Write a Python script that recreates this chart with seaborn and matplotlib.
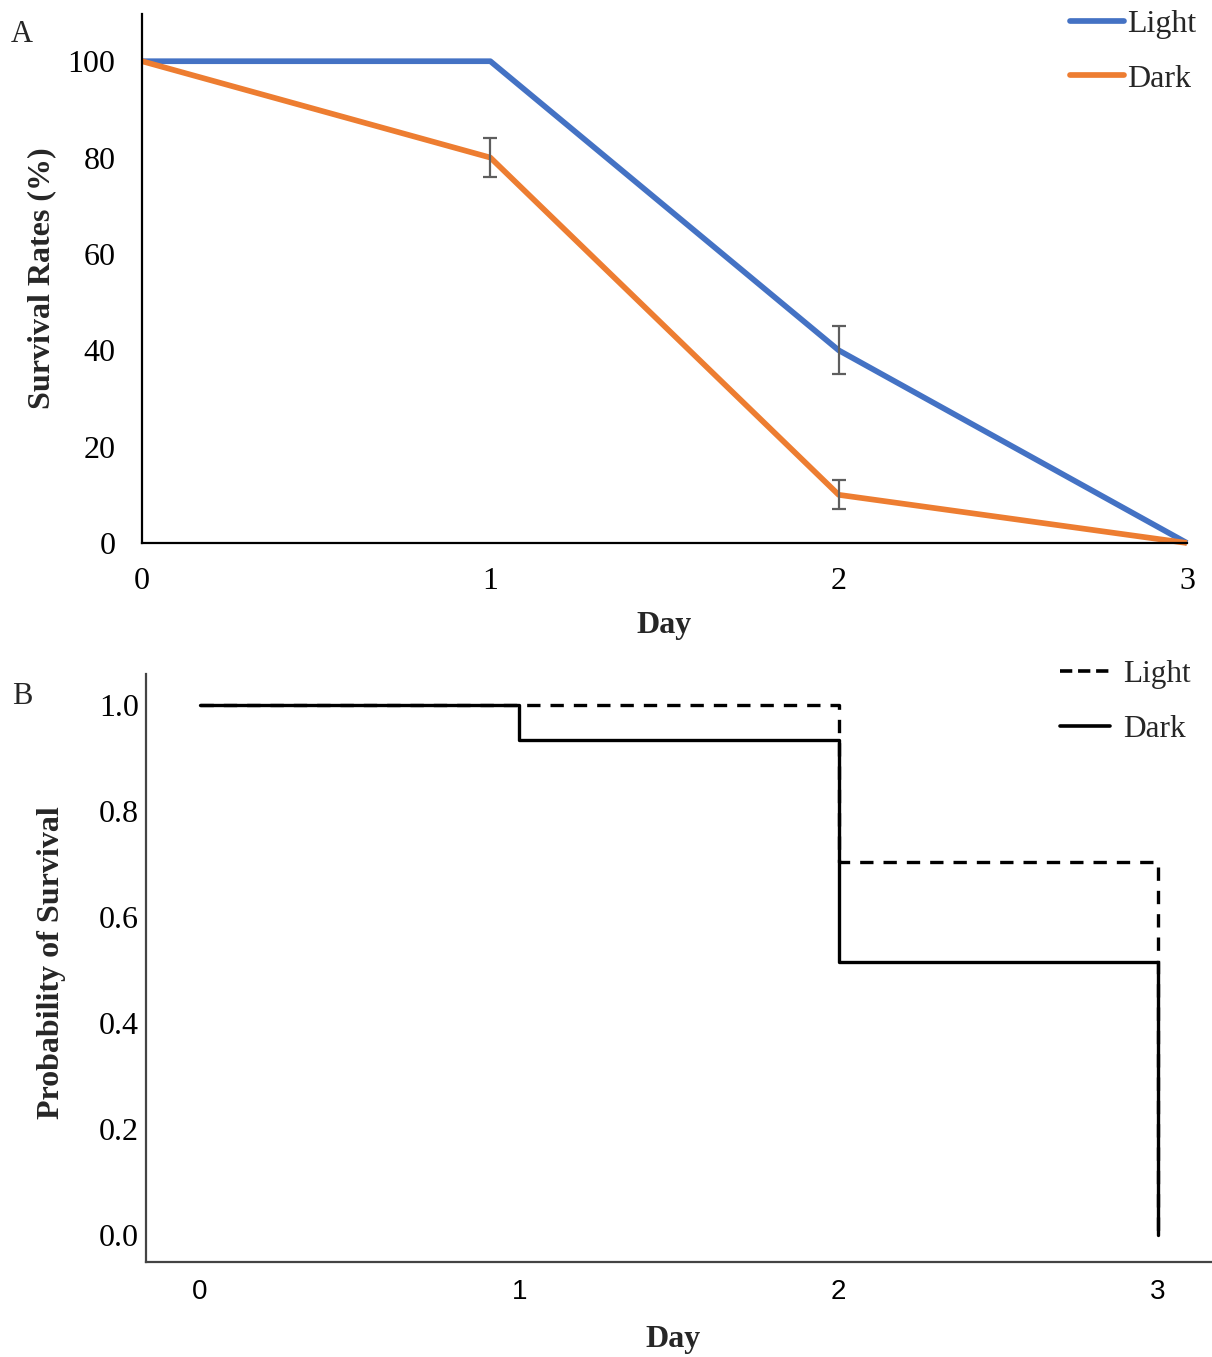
import numpy as np
import pandas as pd
import matplotlib
matplotlib.use("Agg")
import matplotlib.pyplot as plt
import seaborn as sns

# ---- data ----
days = [0, 1, 2, 3]
light_rate = [100, 100, 40, 0]
dark_rate = [100, 80, 10, 0]
light_err = [0, 0, 5, 0]
dark_err = [0, 4, 3, 0]

km_days = [0, 1, 2, 3]
km_light = [1.0, 1.0, 0.704, 0.0]
km_dark = [1.0, 0.934, 0.515, 0.0]

groups = ["Light", "Dark"]
colors = {"Light": "#4472C4", "Dark": "#ED7D31"}

sns.set_theme(style="white")
plt.rcParams["font.family"] = ["Liberation Serif", "DejaVu Serif"]

fig = plt.figure(figsize=(12.12, 13.57), dpi=100)
W, H = 1212, 1357


def px_axes(left, top, right, bottom):
    return fig.add_axes([left / W, 1 - bottom / H, (right - left) / W, (bottom - top) / H])


# ---- Panel A: survival rates ----
axA = px_axes(142, 14, 1187, 543)
dfA = pd.DataFrame({
    "Day": days * 2,
    "Rate": light_rate + dark_rate,
    "Err": light_err + dark_err,
    "Group": ["Light"] * 4 + ["Dark"] * 4,
})
sns.lineplot(data=dfA, x="Day", y="Rate", hue="Group", hue_order=groups,
             palette=colors, linewidth=4.1, estimator=None, ax=axA,
             legend=False, clip_on=False, solid_capstyle="butt")
for g in groups:
    sub = dfA[(dfA["Group"] == g) & (dfA["Err"] > 0)]
    axA.errorbar(sub["Day"], sub["Rate"], yerr=sub["Err"], fmt="none",
                 ecolor="#5e5e5e", elinewidth=1.6, capsize=5, capthick=1.6,
                 zorder=5)
axA.set_xlim(0, 3)
axA.set_ylim(0, 109.8)
axA.set_xticks(days)
axA.set_yticks([0, 20, 40, 60, 80, 100])
axA.tick_params(axis="both", length=0, labelsize=23, colors="black")
axA.tick_params(axis="y", pad=19)
axA.tick_params(axis="x", pad=17)
for s in ["top", "right"]:
    axA.spines[s].set_visible(False)
for s in ["left", "bottom"]:
    axA.spines[s].set_color("black")
    axA.spines[s].set_linewidth(1.6)
axA.set_xlabel("Day", fontsize=23, fontweight="bold", va="center")
axA.xaxis.set_label_coords(0.5, -(625 - 543) / 529)
axA.set_ylabel("Survival Rates (%)", fontsize=23, fontweight="bold", va="center")
axA.yaxis.set_label_coords((42 - 142) / 1045, 0.5)

handlesA = [plt.Line2D([], [], color=colors[g], lw=4.1, solid_capstyle="round") for g in groups]
fig.legend(handlesA, groups, loc="upper left", bbox_to_anchor=(1070 / W, 1 - 10 / H),
           frameon=False, fontsize=23, handlelength=1.7, handletextpad=0.08,
           labelspacing=0.78, borderpad=0, borderaxespad=0)
fig.text(22 / W, 1 - 35 / H, "A", fontsize=22, ha="center", va="center")

# ---- Panel B: Kaplan-Meier curve ----
axB = px_axes(146, 674, 1212, 1262)
dfB = pd.DataFrame({
    "Day": km_days * 2,
    "Survival": km_light + km_dark,
    "Group": ["Light"] * 4 + ["Dark"] * 4,
})
sns.lineplot(data=dfB, x="Day", y="Survival", hue="Group", style="Group",
             hue_order=groups, style_order=groups,
             palette={"Light": "black", "Dark": "black"},
             dashes={"Light": (4, 3), "Dark": ""},
             drawstyle="steps-post", linewidth=2.4, estimator=None,
             legend=False, ax=axB)
axB.set_xlim(-0.169, 3.169)
axB.set_ylim(-0.051, 1.058)
axB.set_xticks(km_days)
yt = [0.0, 0.2, 0.4, 0.6, 0.8, 1.0]
axB.set_yticks(yt)
axB.set_yticklabels([f"{v:.1f}" for v in yt])
axB.tick_params(axis="both", length=0, colors="black")
axB.tick_params(axis="y", pad=5, labelsize=23)
axB.tick_params(axis="x", pad=12, labelsize=20)
for lbl in axB.get_xticklabels():
    lbl.set_family(["Liberation Sans", "DejaVu Sans"])
for s in ["top", "right"]:
    axB.spines[s].set_visible(False)
for s in ["left", "bottom"]:
    axB.spines[s].set_color("#444444")
    axB.spines[s].set_linewidth(1.6)
axB.set_xlabel("Day", fontsize=23, fontweight="bold", va="center")
axB.xaxis.set_label_coords((673 - 146) / 1066, -(1340 - 1262) / 588)
axB.set_ylabel("Probability of Survival", fontsize=23, fontweight="bold", va="center")
axB.yaxis.set_label_coords((51 - 146) / 1066, (1262 - 963) / 588)

handlesB = [plt.Line2D([], [], color="black", lw=2.6, dashes=(3.4, 1.6)),
            plt.Line2D([], [], color="black", lw=2.6)]
fig.legend(handlesB, groups, loc="upper left", bbox_to_anchor=(1060 / W, 1 - 660 / H),
           frameon=False, fontsize=22.5, handlelength=1.6, handletextpad=0.42,
           labelspacing=0.84, borderpad=0, borderaxespad=0)
fig.text(22 / W, 1 - 697 / H, "B", fontsize=22, ha="center", va="center")

fig.savefig("out.png", dpi=100)
